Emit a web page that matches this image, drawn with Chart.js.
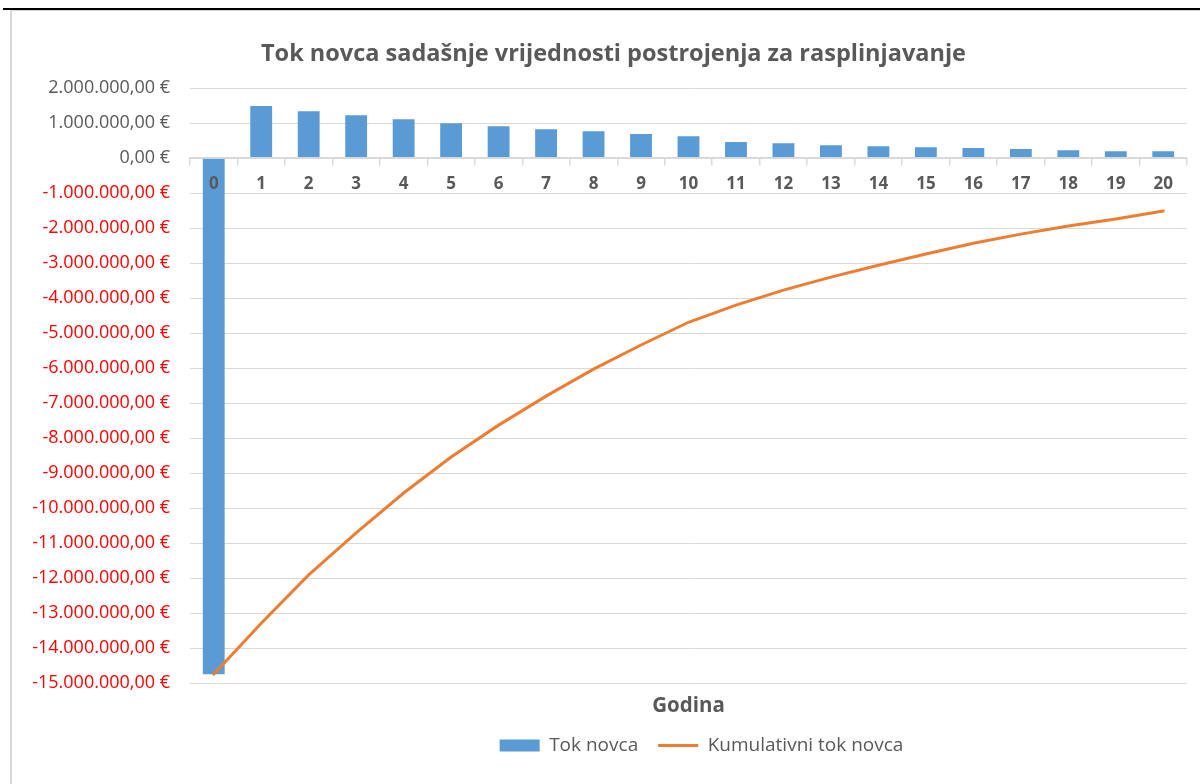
<!DOCTYPE html>
<html>
<head>
<meta charset="utf-8">
<script src="https://cdn.jsdelivr.net/npm/chart.js@4"></script>
<style>
  html, body { margin: 0; padding: 0; background: #fff; overflow: hidden; }
  #wrap { position: absolute; left: 0; top: 0; width: 1200px; height: 784px; }
  #frame { position: absolute; left: 10px; top: 10px; width: 1195px; height: 780px;
           border-left: 2px solid #d9d9d9; border-top: 1px solid #d9d9d9; box-sizing: border-box; }
  #rule { position: absolute; left: 3px; top: 8px; width: 1197px; height: 2px; background: #000; }
</style>
</head>
<body>
<div id="frame"></div>
<div id="rule"></div>
<div id="wrap"><canvas id="cashChart"></canvas></div>
<script>
// Godine (kategorije)
const years = ['0', '1', '2', '3', '4', '5', '6', '7', '8', '9', '10',
               '11', '12', '13', '14', '15', '16', '17', '18', '19', '20'];

// Tok novca (stupci)
const cashFlow = [-14750000, 1490000, 1340000, 1230000, 1110000, 1000000, 910000,
                  830000, 770000, 690000, 630000, 460000, 430000, 370000, 340000,
                  310000, 290000, 260000, 230000, 200000, 200000];

// Kumulativni tok novca (linija)
const cumulative = [-14750000, -13290000, -11910000, -10710000, -9570000, -8540000,
                    -7630000, -6800000, -6030000, -5340000, -4690000, -4200000,
                    -3770000, -3400000, -3060000, -2740000, -2430000, -2170000,
                    -1940000, -1740000, -1510000];

// y os
const yMin = -15000000;
const yMax = 2000000;
const yStep = 1000000;

const grey = '#595959';
const font = 'Open Sans';

function euro(v) {
  const parts = Math.abs(v).toFixed(2).split('.');
  const intPart = parts[0].replace(/\B(?=(\d{3})+(?!\d))/g, '.');
  return (v < 0 ? '-' : '') + intPart + ',' + parts[1] + ' €';
}

// pomak naslova i legende kao u Excelu
const shiftPlugin = {
  id: 'shift',
  afterLayout(chart) {
    chart.titleBlock.left += 15;
    chart.titleBlock.right += 15;
    chart.legend.left += 103;
    chart.legend.right += 103;
  }
};

const ctx = document.getElementById('cashChart').getContext('2d');
const cashChart = new Chart(ctx, {
  type: 'bar',
  data: {
    labels: years,
    datasets: [
      {
        label: 'Tok novca',
        data: cashFlow,
        backgroundColor: '#5b9bd5',
        barPercentage: 0.46,
        categoryPercentage: 1,
        order: 1
      },
      {
        type: 'line',
        label: 'Kumulativni tok novca',
        data: cumulative,
        borderColor: '#ed7d31',
        backgroundColor: '#ed7d31',
        borderWidth: 3,
        borderCapStyle: 'round',
        pointRadius: 0,
        tension: 0,
        fill: false,
        order: 0
      }
    ]
  },
  options: {
    responsive: true,
    maintainAspectRatio: false,
    animation: false,
    layout: { padding: { left: 10, right: 13, top: 0, bottom: 19 } },
    plugins: {
      title: {
        display: true,
        text: 'Tok novca sadašnje vrijednosti postrojenja za rasplinjavanje',
        color: grey,
        font: { family: font, size: 23.5, weight: 'bold' },
        padding: { top: 40, bottom: 20 }
      },
      legend: {
        position: 'bottom',
        labels: {
          color: grey,
          font: { family: font, size: 19 },
          usePointStyle: true,
          pointStyleWidth: 40,
          boxHeight: 12,
          padding: 20,
          generateLabels(chart) {
            const items = Chart.defaults.plugins.legend.labels.generateLabels(chart);
            items.sort((a, b) => a.datasetIndex - b.datasetIndex);
            items.forEach(item => {
              if (item.datasetIndex === 0) {
                item.pointStyle = 'rect';
                item.lineWidth = 0;
              } else {
                item.pointStyle = 'line';
                item.lineWidth = 3;
              }
            });
            return items;
          }
        }
      },
      tooltip: { enabled: false }
    },
    scales: {
      x: {
        type: 'category',
        position: { y: 0 },
        offset: true,
        grid: { drawOnChartArea: false, offset: true, tickLength: 7, color: '#d9d9d9', lineWidth: 1.5, z: 1 },
        border: { display: true, color: '#d9d9d9', width: 1.5, z: 1 },
        ticks: {
          z: 1,
          color: grey,
          font: { family: font, size: 17, weight: 'bold' },
          padding: 9,
          maxRotation: 0,
          autoSkip: false
        }
      },
      x2: {
        type: 'category',
        position: 'bottom',
        grid: { display: false },
        border: { display: false },
        ticks: { display: false },
        title: {
          display: true,
          text: 'Godina',
          color: grey,
          font: { family: font, size: 20.5, weight: 'bold' },
          padding: { top: 0, bottom: -2 }
        },
        afterFit(scale) { scale.height = 33; }
      },
      y: {
        min: yMin,
        max: yMax,
        ticks: {
          stepSize: yStep,
          color: c => (c.tick.value < 0 ? '#ff0000' : grey),
          font: { family: font, size: 18 },
          padding: 20,
          callback: v => euro(v)
        },
        grid: { color: '#d9d9d9', drawTicks: false },
        border: { display: false },
        afterFit(scale) { scale.width = 180; }
      }
    }
  },
  plugins: [shiftPlugin]
});
</script>
</body>
</html>
